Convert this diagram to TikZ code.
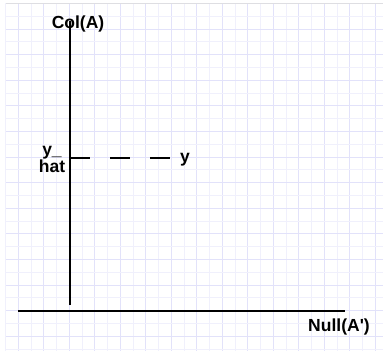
\documentclass[tikz,border=0pt]{standalone}
\usepackage{fontspec}
\setmainfont{Liberation Sans}
\usepackage{xcolor}
\usetikzlibrary{positioning,calc}
\definecolor{gridmajor}{RGB}{226,226,250}
\definecolor{gridminor}{RGB}{240,240,252}
\definecolor{topband}{RGB}{222,222,226}

\begin{document}
\begin{tikzpicture}[x=1pt, y=-1pt,
  majorline/.style={draw=gridmajor, line width=0.9pt},
  minorline/.style={draw=gridminor, line width=0.7pt},
  axis/.style={draw=black, line width=2pt},
  proj/.style={draw=black, line width=2pt, dash pattern=on 20pt off 20pt},
  lbl/.style={inner sep=1pt, font=\fontsize{17.5}{17}\selectfont\bfseries}
]
\useasboundingbox[fill=white] (0,0) rectangle (383,351);

% Background grid paper.
\foreach \k in {0,...,29} {
  \pgfmathsetmacro{\gx}{5.5+12.75*\k}
  \ifodd\k
    \draw[majorline] (\gx,3) -- (\gx,351);
  \else
    \draw[minorline] (\gx,3) -- (\gx,351);
  \fi
}
\foreach \k in {1,...,27} {
  \pgfmathsetmacro{\gy}{3.4+12.8*\k}
  \ifodd\k
    \draw[minorline] (6,\gy) -- (383,\gy);
  \else
    \draw[majorline] (6,\gy) -- (383,\gy);
  \fi
}
\draw[draw=topband, line width=1.2pt] (6,3.4) -- (383,3.4);

% Labels.
\node[lbl] (colA) at (78,24) {Col(A)};
\node[lbl, align=center] (yhat) at (52,159) {y\_\\hat};
\node[lbl, anchor=west] (yvec) at (179,160) {y};
\node[lbl] (nullA) at (339,327) {Null(A\textquotesingle)};

% Axes and projection.
\coordinate (origin) at (70,305);
\coordinate (colend) at (70,21);
\coordinate (nullstart) at (18,311);
\coordinate (nullend) at (345,311);
\coordinate (yhatpt) at (70,158);
\coordinate (yend) at (170,158);

\draw[axis] (origin) -- (colend);
\draw[axis] (nullstart) -- (nullend);
\draw[proj] (yhatpt) -- (yend);

\end{tikzpicture}
\end{document}
